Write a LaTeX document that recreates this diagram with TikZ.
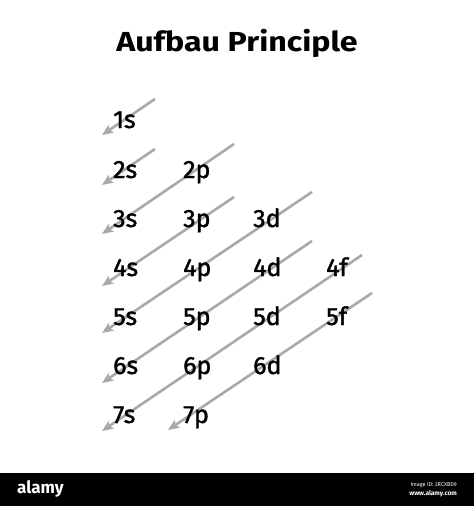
\documentclass[tikz,border=0pt]{standalone}
\usepackage{fontspec}
\setmainfont{Fira Sans}
\newfontfamily\labfont[FakeBold=1.5]{Fira Sans}
\usetikzlibrary{arrows.meta}
\definecolor{arrowgray}{HTML}{A9A9A9}
\tikzset{
  orb/.style={anchor=base west, inner sep=0pt, font=\labfont\fontsize{25}{25}\selectfont, text=black},
  diag/.style={draw=arrowgray, line width=2.6pt, -{Stealth[length=11pt,width=9pt,inset=2pt]}},
  wm/.style={text=white, inner sep=0pt}
}
\begin{document}
\begin{tikzpicture}[x=1pt,y=-1pt]
\useasboundingbox (0,0) rectangle (474,506);
\fill[white] (0,0) rectangle (474,506);
% watermark bar
\fill[black] (0,473) rectangle (474,506);
\node[wm, anchor=west, font=\bfseries\fontsize{17}{17}\selectfont] (alamy) at (17,489) {alamy};
\node[wm, anchor=east, font=\fontsize{5.5}{6}\selectfont] (imgid) at (457,485) {Image ID: 2RCXBD9};
\node[wm, anchor=east, font=\bfseries\fontsize{6.5}{7}\selectfont] (www) at (457,494) {www.alamy.com};
% title
\node[anchor=base, inner sep=0pt, xscale=1.17, font=\bfseries\fontsize{27.5}{28}\selectfont] (title) at (237,51) {Aufbau Principle};
% arrow end points
\coordinate (a1s) at (155,99);  \coordinate (a1e) at (102,135);
\coordinate (a2s) at (155,149); \coordinate (a2e) at (102,185);
\coordinate (a3s) at (234,144); \coordinate (a3e) at (102,234);
\coordinate (a4s) at (234,197); \coordinate (a4e) at (102,286);
\coordinate (a5s) at (312,192); \coordinate (a5e) at (102,333);
\coordinate (a6s) at (312,241); \coordinate (a6e) at (102,383);
\coordinate (a7s) at (362,255); \coordinate (a7e) at (102,431);
\coordinate (a8s) at (372,293); \coordinate (a8e) at (168,430);
\foreach \i in {1,...,8} { \draw[diag] (a\i s) -- (a\i e); }
% orbital labels
\node[orb] (s1) at (113,128) {1s};
\node[orb] (s2) at (113,178) {2s};
\node[orb] (p2) at (183,178) {2p};
\node[orb] (s3) at (113,227) {3s};
\node[orb] (p3) at (183,227) {3p};
\node[orb] (d3) at (253,227) {3d};
\node[orb] (s4) at (113,276) {4s};
\node[orb] (p4) at (183,276) {4p};
\node[orb] (d4) at (253,276) {4d};
\node[orb] (f4) at (326,276) {4f};
\node[orb] (s5) at (113,325) {5s};
\node[orb] (p5) at (183,325) {5p};
\node[orb] (d5) at (253,325) {5d};
\node[orb] (f5) at (326,325) {5f};
\node[orb] (s6) at (113,374) {6s};
\node[orb] (p6) at (183,374) {6p};
\node[orb] (d6) at (253,374) {6d};
\node[orb] (s7) at (113,423) {7s};
\node[orb] (p7) at (183,423) {7p};
\end{tikzpicture}
\end{document}
